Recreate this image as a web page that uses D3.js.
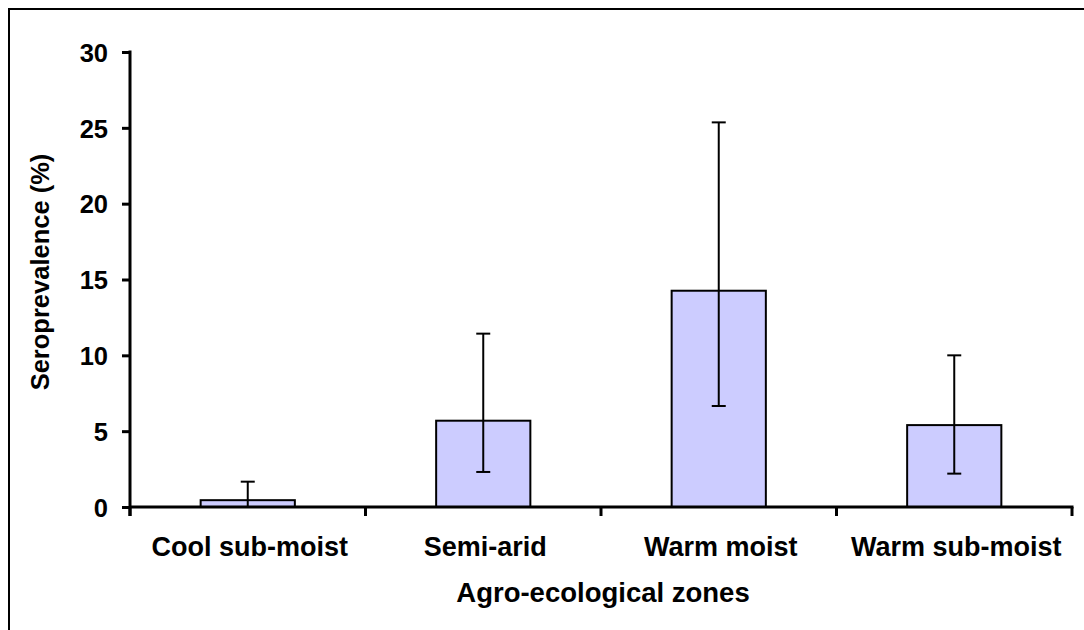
<!DOCTYPE html>
<html>
<head>
<meta charset="utf-8">
<script src="https://cdn.jsdelivr.net/npm/d3@7"></script>
<style>
  html, body { margin: 0; padding: 0; background: #fff; }
  svg { display: block; }
  text { font-family: "Liberation Sans", Arial, sans-serif; font-weight: bold; fill: #000; }
</style>
</head>
<body>
<svg id="chart" width="1084" height="630"></svg>
<script>
const categories = ["Cool sub-moist", "Semi-arid", "Warm moist", "Warm sub-moist"];
const values = [0.45, 5.69, 14.26, 5.4];
const errLow = [0.0, 2.31, 6.66, 2.2];
const errHigh = [1.67, 11.43, 25.36, 10.0];
const yTicks = [0, 5, 10, 15, 20, 25, 30];

const svg = d3.select("#chart");
const W = 1084, H = 630;
const m = { left: 130, right: 12, top: 52, bottom: 123 };

svg.append("rect")
  .attr("x", 9).attr("y", 9)
  .attr("width", W + 20).attr("height", H + 20)
  .attr("fill", "none").attr("stroke", "#000").attr("stroke-width", 2);

const x = d3.scaleBand().domain(categories)
  .range([m.left, W - m.right]).paddingInner(0.6).paddingOuter(0.3);
const xb = d3.scaleBand().domain(categories).range([m.left, W - m.right]);
const y = d3.scaleLinear().domain([0, 30]).range([H - m.bottom, m.top]);

// bars
svg.append("g").selectAll("rect").data(categories).join("rect")
  .attr("x", d => xb(d) + xb.bandwidth() / 2 - x.bandwidth() / 2)
  .attr("y", (d, i) => y(values[i]))
  .attr("width", x.bandwidth())
  .attr("height", (d, i) => y(0) - y(values[i]))
  .attr("fill", "#ccccff").attr("stroke", "#000").attr("stroke-width", 2);

// error bars
const eg = svg.append("g").attr("stroke", "#000").attr("stroke-width", 2);
categories.forEach((c, i) => {
  const cx = xb(c) + xb.bandwidth() / 2;
  eg.append("line").attr("x1", cx).attr("x2", cx).attr("y1", y(errLow[i])).attr("y2", y(errHigh[i]));
  eg.append("line").attr("x1", cx - 7).attr("x2", cx + 7).attr("y1", y(errHigh[i])).attr("y2", y(errHigh[i]));
  eg.append("line").attr("x1", cx - 7).attr("x2", cx + 7).attr("y1", y(errLow[i])).attr("y2", y(errLow[i]));
});

// y axis
const yAxis = svg.append("g").attr("transform", `translate(${m.left},0)`)
  .call(d3.axisLeft(y).tickValues(yTicks).tickSize(8).tickPadding(14).tickSizeOuter(0));
yAxis.select(".domain").attr("stroke-width", 3).attr("d", `M0,${y(30) - 1.5}V${y(0) + 9}`);
yAxis.selectAll(".tick line").attr("stroke-width", 3);
yAxis.selectAll(".tick text").style("font-size", "25.5px").attr("dy", "0.36em")
  .style("font-family", '"Liberation Sans", Arial, sans-serif').style("font-weight", "bold");

// x axis
const xAxisG = svg.append("g").attr("transform", `translate(0,${y(0)})`);
xAxisG.append("line").attr("x1", m.left).attr("x2", W - m.right + 1.5)
  .attr("y1", 0).attr("y2", 0).attr("stroke", "#000").attr("stroke-width", 3);
const bounds = categories.map(c => xb(c)).concat([xb.range()[1]]);
xAxisG.selectAll("line.tk").data(bounds).join("line").attr("class", "tk")
  .attr("x1", d => d).attr("x2", d => d).attr("y1", 0).attr("y2", 9)
  .attr("stroke", "#000").attr("stroke-width", 3);
xAxisG.selectAll("text.cat").data(categories).join("text").attr("class", "cat")
  .attr("x", d => xb(d) + xb.bandwidth() / 2 + 2).attr("y", 49)
  .attr("text-anchor", "middle").style("font-size", "27px").text(d => d);

// axis titles
svg.append("text").attr("x", (m.left + W - m.right) / 2 + 2).attr("y", 602)
  .attr("text-anchor", "middle").style("font-size", "27.5px").text("Agro-ecological zones");
svg.append("text").attr("transform", `translate(49,272) rotate(-90)`)
  .attr("text-anchor", "middle").style("font-size", "25.5px").text("Seroprevalence (%)");
</script>
</body>
</html>
